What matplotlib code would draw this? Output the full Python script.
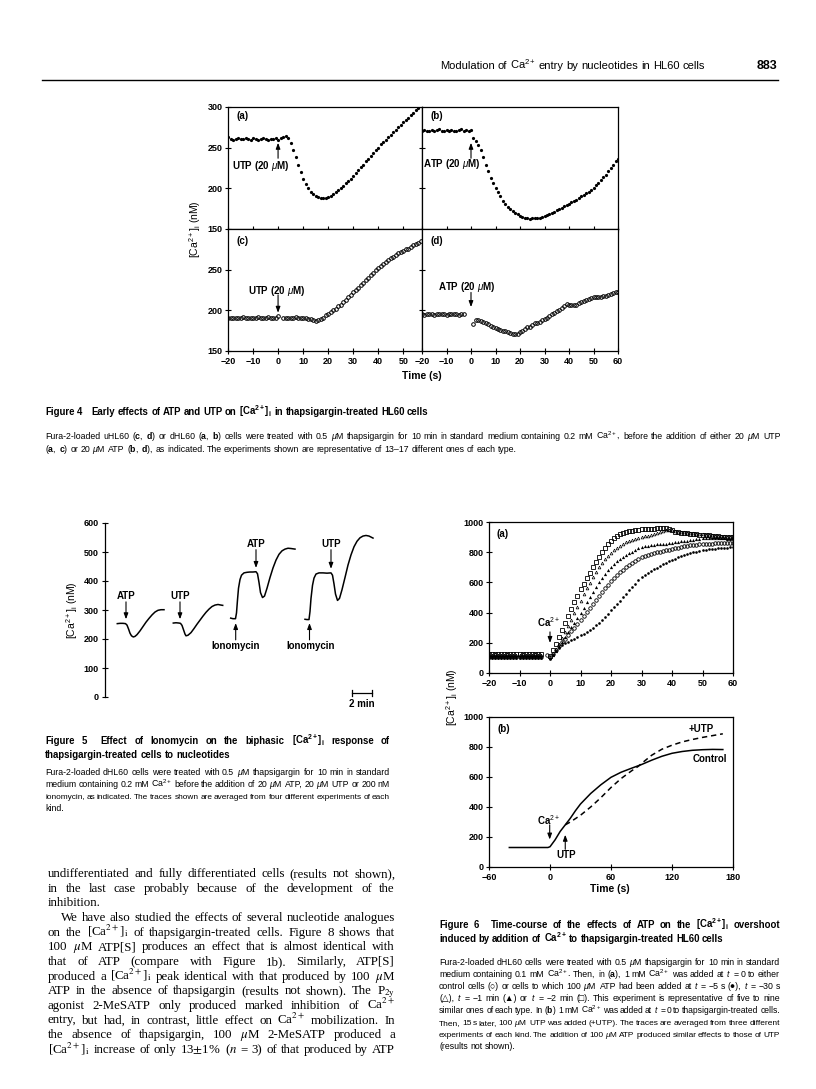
import numpy as np
import matplotlib
matplotlib.use('Agg')
import matplotlib.pyplot as plt
from matplotlib import font_manager
from matplotlib.transforms import IdentityTransform

W, H = 816, 1089
avail = {f.name for f in font_manager.fontManager.ttflist}
NARROW = 'Liberation Sans Narrow' if 'Liberation Sans Narrow' in avail else 'Liberation Sans'
SANS = 'Liberation Sans'
SERIF = 'Liberation Serif'

plt.rcParams['font.family'] = [SANS, 'DejaVu Sans']
plt.rcParams['mathtext.fontset'] = 'custom'
plt.rcParams['mathtext.rm'] = NARROW
plt.rcParams['mathtext.it'] = NARROW + ':italic'
plt.rcParams['mathtext.bf'] = NARROW + ':bold'

CA = r'[Ca$^{2+}$]$_\mathrm{i}$'
CA_BOLD = r'[Ca$^{\mathbf{2+}}$]$_\mathbf{i}$'

# ---------------- Figure 4 data (1 s sampling) ----------------
t4_left = np.arange(-20, 58)
t4_right = np.arange(-20, 61)
ca4a = [263, 261, 260, 261, 262, 261, 261, 262, 261, 260, 262, 261, 260, 261, 262, 261, 260, 261, 261, 262,
        260, 262, 263, 264, 262,
        256, 247, 238, 229, 220, 212, 205, 200, 196, 193, 191, 189, 188, 188, 188, 189, 191, 193, 196, 198,
        201, 203, 206, 209, 212, 215, 219, 222, 226, 229, 233, 236, 240, 243, 247, 250, 254, 257, 260, 263,
        266, 269, 272, 275, 278, 281, 284, 287, 290, 293, 296, 299, 302]
ca4b = [271, 272, 271, 270, 272, 271, 272, 273, 271, 270, 272, 271, 272, 271, 270, 272, 273, 271, 272, 271, 272,
        262, 258, 253, 247, 238, 229, 221, 213, 206, 200, 195, 190, 185, 181, 177, 174, 172, 170, 168, 166,
        165, 164, 163, 162, 163, 163, 163, 164, 165, 166, 167, 168, 170, 171, 173, 174, 176, 178, 179, 181,
        183, 184, 186, 188, 190, 192, 194, 196, 198, 201, 204, 207, 210, 214, 217, 221, 225, 229, 233, 236]
ca4c = [191, 190, 191, 191, 190, 191, 192, 191, 190, 191, 191, 190, 192, 191, 190, 191, 192, 191, 190, 191, 193,
        np.nan,
        190, 190, 191, 190, 191, 192, 191, 190, 190, 190, 189, 189, 188, 187, 188, 189, 191, 194, 196, 198,
        200, 202, 205, 207, 210, 213, 216, 219, 222, 225, 228, 231, 234, 237, 240, 243, 246, 249, 252, 254,
        257, 259, 262, 264, 266, 268, 270, 272, 273, 275, 276, 278, 280, 281, 283, 285]
ca4d = [195, 194, 195, 196, 195, 194, 195, 195, 196, 195, 194, 195, 196, 195, 195, 194, 196, 195,
        np.nan, np.nan, np.nan,
        183, 188, 188, 187, 186, 185, 183, 181, 179, 178, 177, 176, 175, 174, 173, 172, 171, 171, 171, 173,
        175, 177, 179, 180, 182, 184, 185, 186, 188, 189, 191, 193, 195, 197, 199, 201, 203, 205, 208, 207,
        206, 206, 207, 209, 210, 211, 213, 214, 215, 216, 216, 217, 217, 218, 218, 219, 220, 221, 222, 222]

# ---------------- Figure 5 data (min, nM) ----------------
f5_t1 = [1.23, 1.5, 1.8, 2.05, 2.2, 2.35, 2.5, 2.65, 2.83, 3.0, 3.2, 3.5, 3.8, 4.1, 4.4, 4.7, 5.0, 5.3, 5.6, 5.9]
f5_v1 = [253, 254, 254, 253, 248, 235, 220, 211, 207, 209, 215, 228, 243, 258, 271, 283, 293, 299, 301, 301]
f5_t2 = [6.83, 7.1, 7.4, 7.55, 7.7, 7.85, 8.0, 8.1, 8.3, 8.6, 8.9, 9.2, 9.5, 9.8, 10.1, 10.4, 10.7, 11.0, 11.3,
         11.6, 11.77]
f5_v2 = [255, 256, 255, 254, 247, 232, 217, 211, 213, 222, 236, 251, 265, 279, 292, 303, 312, 317, 319, 317, 316]
f5_t3 = [12.57, 12.8, 13.05, 13.15, 13.25, 13.35, 13.5, 13.65, 13.9, 14.2, 14.5, 14.8, 15.1, 15.25, 15.4, 15.55,
         15.75, 15.95, 16.2, 16.5, 16.8, 17.1, 17.4, 17.7, 18.0, 18.3, 18.6, 19.0]
f5_v3 = [272, 270, 270, 290, 335, 375, 405, 420, 428, 430, 431, 431, 432, 425, 395, 360, 343, 348, 375, 412, 445,
         472, 492, 504, 510, 513, 512, 510]
f5_t4 = [20.0, 20.2, 20.4, 20.5, 20.6, 20.75, 20.9, 21.1, 21.4, 21.8, 22.2, 22.6, 22.75, 22.9, 23.05, 23.25,
         23.45, 23.7, 24.0, 24.3, 24.6, 24.9, 25.2, 25.5, 25.8, 26.1, 26.4, 26.8]
f5_v4 = [268, 267, 267, 295, 340, 385, 410, 424, 428, 428, 427, 428, 420, 390, 355, 333, 340, 370, 412, 455, 490,
         518, 537, 549, 555, 557, 555, 548]

# ---------------- Figure 6a data (1 s sampling) ----------------
t6a = np.arange(-20, 61)
nan = np.nan
sq_2min = [128, 127, 128, 126, 128, 127, 128, 127, 126, 128, 127, 128, 127, 126, 128, 127, 128, 126, nan, nan,
           110, 150, 195, 240, 285, 330, 376, 422, 468, 512, 554, 592, 630, 665, 700, 735, 768, 800, 828, 854,
           876, 894, 908, 918, 926, 932, 938, 942, 946, 949, 951, 953, 954, 955, 956, 958, 960, 961, 958, 951,
           944, 937, 932, 928, 926, 925, 923, 921, 919, 917, 915, 913, 911, 909, 907, 905, 903, 901, 900, 899, 898]
otri_30s = [122, 121, 123, 122, 121, 122, 123, 121, 122, 122, 121, 123, 122, 121, 122, 123, 121, 122, nan, nan,
            105, 130, 160, 195, 232, 270, 310, 352, 395, 438, 480, 520, 560, 598, 634, 668, 700, 728, 754, 778,
            798, 816, 831, 844, 856, 866, 874, 882, 889, 895, 900, 905, 910, 915, 920, 926, 932, 938, 944, 946,
            945, 941, 937, 934, 931, 928, 926, 924, 922, 920, 918, 916, 914, 912, 910, 908, 906, 904, 902, 900, 899]
ftri_1min = [112, 113, 111, 112, 113, 112, 111, 112, 113, 112, 111, 112, 113, 112, 111, 112, 112, 113, nan, nan,
             100, 122, 148, 176, 206, 238, 270, 302, 334, 366, 398, 433, 468, 504, 538, 570, 600, 628, 654, 679,
             702, 722, 740, 756, 769, 780, 792, 804, 815, 825, 834, 838, 842, 845, 848, 851, 853, 855, 857, 859,
             862, 865, 868, 871, 874, 877, 880, 883, 886, 889, 891, 892, 893, 893, 893, 893, 892, 891, 890, 889, 888]
ocirc_ctrl = [108, 107, 109, 108, 107, 108, 109, 107, 108, 108, 107, 109, 108, 107, 108, 109, 107, 108, nan, 120,
              105, 128, 152, 176, 202, 228, 252, 276, 300, 325, 350, 377, 403, 430, 456, 482, 508, 534, 560, 585,
              609, 630, 650, 668, 685, 700, 715, 729, 742, 754, 766, 773, 780, 787, 793, 799, 804, 809, 813, 817,
              821, 826, 830, 835, 839, 843, 845, 847, 849, 851, 854, 855, 856, 857, 858, 859, 860, 860, 860, 860, 860]
fcirc_5s = [100, 101, 99, 100, 101, 100, 99, 100, 101, 100, 99, 100, 101, 100, 99, 100, 100, 101, nan, nan,
            92, 120, 148, 168, 184, 198, 208, 218, 228, 238, 249, 261, 273, 287, 300, 315, 332, 352, 372, 393,
            414, 436, 458, 480, 503, 526, 548, 570, 592, 614, 636, 649, 662, 674, 686, 697, 708, 719, 730, 740,
            750, 758, 766, 774, 782, 790, 795, 800, 804, 808, 812, 815, 818, 821, 824, 827, 829, 830, 831, 832, 833]

# ---------------- Figure 6b data ----------------
ctrl_t = [-40, -30, -20, -10, -2, 0, 5, 10, 15, 20, 25, 30, 40, 50, 60, 70, 80, 90, 100, 110, 120, 130, 140,
          150, 160, 170]
ctrl_v = [130, 130, 130, 130, 130, 135, 181, 237, 281, 325, 375, 420, 490, 548, 598, 632, 658, 683, 712, 738,
          758, 770, 778, 782, 784, 783]
utp_t = [15, 20, 30, 40, 50, 60, 70, 80, 87, 90, 100, 110, 120, 130, 140, 150, 160, 170]
utp_v = [281, 300, 345, 400, 462, 530, 590, 640, 672, 690, 745, 785, 812, 834, 850, 864, 876, 888]


fig = plt.figure(figsize=(W / 100, H / 100), dpi=100)
fig.patch.set_facecolor('white')


def rect(x0, y0, x1, y1):
    return [x0 / W, 1 - y1 / H, (x1 - x0) / W, (y1 - y0) / H]


def style(ax):
    ax.tick_params(direction='inout', length=4, width=0.8, labelsize=6.5, pad=2)
    for lab in ax.get_xticklabels() + ax.get_yticklabels():
        lab.set_fontweight('bold')
    for s in ax.spines.values():
        s.set_linewidth(0.9)


def arrow(ax, x, y0, y1):
    ax.annotate('', xy=(x, y1), xytext=(x, y0),
                arrowprops=dict(arrowstyle='-|>,head_length=0.35,head_width=0.13', lw=0.8, color='k',
                                shrinkA=0, shrinkB=0))


def label(ax, x, y, s, ha='center'):
    ax.text(x, y, s, fontsize=7, fontweight='bold', ha=ha, va='center')


def ptext(x, y, s, **kw):
    fig.text(x, H - y, s, transform=IdentityTransform(), **kw)


# ================= Figure 4 =================
ax4a = fig.add_axes(rect(228, 107, 422, 229))
ax4b = fig.add_axes(rect(422, 107, 618, 229))
ax4c = fig.add_axes(rect(228, 229, 422, 351))
ax4d = fig.add_axes(rect(422, 229, 618, 351))

ax4a.plot(t4_left, ca4a, 'o', color='k', ms=2.3, mew=0)
ax4b.plot(t4_right, ca4b, 'o', color='k', ms=2.3, mew=0)
ax4c.plot(t4_left, ca4c, 'o', mfc='none', mec='k', ms=2.6, mew=0.7)
ax4d.plot(t4_right, ca4d, 'o', mfc='none', mec='k', ms=2.6, mew=0.7)

for ax in (ax4a, ax4c):
    ax.set_xlim(-20, 57.5)
    ax.set_xticks(range(-20, 51, 10))
for ax in (ax4b, ax4d):
    ax.set_xlim(-20, 60)
    ax.set_xticks(range(-20, 61, 10))
    ax.set_yticks([200, 250])
    ax.tick_params(labelleft=False)
for ax in (ax4a, ax4b, ax4c, ax4d):
    ax.set_ylim(150, 300)
for ax in (ax4a, ax4b):
    ax.tick_params(labelbottom=False)
ax4a.set_yticks([150, 200, 250, 300])
ax4c.set_yticks([150, 200, 250])
for ax in (ax4a, ax4b, ax4c, ax4d):
    style(ax)

label(ax4a, -16.7, 289, '(a)', ha='left')
label(ax4b, -16.7, 289, '(b)', ha='left')
label(ax4c, -16.7, 285, '(c)', ha='left')
label(ax4d, -16.7, 285, '(d)', ha='left')
label(ax4a, -7, 227, r'UTP (20 $\mu$M)')
arrow(ax4a, 0, 237, 256)
label(ax4b, -8, 230, r'ATP (20 $\mu$M)')
arrow(ax4b, 0, 237, 256)
label(ax4c, -0.4, 224, r'UTP (20 $\mu$M)')
arrow(ax4c, 0, 219, 197)
label(ax4d, -1.6, 229, r'ATP (20 $\mu$M)')
arrow(ax4d, 0, 222, 204)

ptext(422, 376, 'Time (s)', fontsize=7.5, fontweight='bold', ha='center', va='center')
ptext(195, 229, CA + ' (nM)', fontsize=7.5, ha='center', va='center', rotation=90)

# ================= Figure 5 =================
ax5 = fig.add_axes(rect(105, 523, 375, 697))
for tt, vv in ((f5_t1, f5_v1), (f5_t2, f5_v2), (f5_t3, f5_v3), (f5_t4, f5_v4)):
    ax5.plot(tt, vv, color='k', lw=1.1)
ax5.set_xlim(0, 27)
ax5.set_ylim(0, 600)
ax5.set_yticks(range(0, 601, 100))
ax5.set_xticks([])
for s in ('top', 'right', 'bottom'):
    ax5.spines[s].set_visible(False)
ax5.patch.set_alpha(0)
style(ax5)
ax5.tick_params(axis='y', length=5)

label(ax5, 2.1, 348, 'ATP')
arrow(ax5, 2.1, 328, 268)
label(ax5, 7.5, 348, 'UTP')
arrow(ax5, 7.5, 328, 268)
label(ax5, 15.1, 528, 'ATP')
arrow(ax5, 15.1, 508, 445)
label(ax5, 22.6, 528, 'UTP')
arrow(ax5, 22.6, 508, 442)
label(ax5, 13.07, 176, 'Ionomycin')
arrow(ax5, 13.07, 197, 255)
label(ax5, 20.55, 176, 'Ionomycin')
arrow(ax5, 20.45, 197, 255)
# 2 min scale bar
ax5.plot([24.67, 26.67], [14, 14], color='k', lw=0.9, clip_on=False)
ax5.plot([24.67, 24.67], [4, 24], color='k', lw=0.9, clip_on=False)
ax5.plot([26.67, 26.67], [4, 24], color='k', lw=0.9, clip_on=False)
ax5.text(25.67, -24, '2 min', fontsize=7, fontweight='bold', ha='center', va='center')
ptext(72, 610, CA + ' (nM)', fontsize=7.5, ha='center', va='center', rotation=90)

# ================= Figure 6 =================
ax6a = fig.add_axes(rect(489, 522, 733, 673))
ax6b = fig.add_axes(rect(489, 717, 733, 867))

ax6a.plot(t6a, fcirc_5s, 'o', color='k', ms=1.9, mew=0)
ax6a.plot(t6a, ocirc_ctrl, 'o', mfc='none', mec='k', ms=2.5, mew=0.6)
ax6a.plot(t6a, ftri_1min, '^', color='k', ms=2.3, mew=0)
ax6a.plot(t6a, otri_30s, '^', mfc='none', mec='k', ms=2.0, mew=0.5)
ax6a.plot(t6a, sq_2min, 's', mfc='none', mec='k', ms=2.6, mew=0.6)
ax6a.set_xlim(-20, 60)
ax6a.set_ylim(0, 1000)
ax6a.set_xticks(range(-20, 61, 10))
ax6a.set_yticks(range(0, 1001, 200))
style(ax6a)
label(ax6a, -17.4, 923, '(a)', ha='left')
label(ax6a, -0.6, 338, r'Ca$^{2+}$')
arrow(ax6a, 0, 272, 199)

ax6b.plot(ctrl_t, ctrl_v, color='k', lw=1.1)
ax6b.plot(utp_t, utp_v, color='k', lw=1.1, dashes=(3.5, 2.5))
ax6b.set_xlim(-60, 180)
ax6b.set_ylim(0, 1000)
ax6b.set_xticks(range(-60, 181, 60))
ax6b.set_yticks(range(0, 1001, 200))
style(ax6b)
label(ax6b, -52, 918, '(b)', ha='left')
label(ax6b, -1, 314, r'Ca$^{2+}$')
arrow(ax6b, -0.3, 281, 183)
label(ax6b, 15.5, 82, 'UTP')
arrow(ax6b, 15, 118, 215)
label(ax6b, 149, 922, '+UTP')
label(ax6b, 157, 717, 'Control')
ptext(610, 889, 'Time (s)', fontsize=7.5, fontweight='bold', ha='center', va='center')
ptext(452, 697, CA + ' (nM)', fontsize=7.5, ha='center', va='center', rotation=90)

# ================= page text =================
renderer = fig.canvas.get_renderer()


def jline(x0, y, s, size, fam, weight='normal', x1=None, math='custom'):
    toks = s.split(' ')
    items = []
    extra = 0.0
    for tk in toks:
        if tk == '':
            extra += size * 0.5
            continue
        t = fig.text(0, 0, tk, transform=IdentityTransform(), fontsize=size,
                     family=[fam, 'DejaVu Sans'], weight=weight, math_fontfamily=math, va='baseline')
        items.append([t, t.get_window_extent(renderer).width, extra])
        extra = 0.0
    total = sum(w + e for _, w, e in items)
    space = size * 100 / 72 * 0.26
    if x1 is not None and len(items) > 1:
        need = total + (len(items) - 1) * space * 0.7
        if need > x1 - x0:
            # too long at this size: shrink the line so it still fits the column
            for t, _, _ in items:
                t.remove()
            jline(x0, y, s, size * (x1 - x0) / need, fam, weight, x1, math)
            return
        gap = (x1 - x0 - total) / (len(items) - 1)
    else:
        gap = space
    x = x0
    for i, (t, w, e) in enumerate(items):
        if i > 0:
            x += gap + e
        t.set_position((x, H - y))
        x += w


# header
jline(440, 69, r'Modulation of Ca$^{2+}$ entry by nucleotides in HL60 cells', 8.0, NARROW)
ptext(777, 69, '883', fontsize=9, fontweight='bold', ha='right', va='baseline', family=SANS)
fig.add_artist(plt.Line2D([42 / W, 778 / W], [1 - 80 / H, 1 - 80 / H], color='k', lw=1.0))

CAP = 6.3
TIT = 6.9

# Figure 4 caption
jline(45, 415, r'Figure 4   Early effects of ATP and UTP on ' + CA_BOLD + ' in thapsigargin-treated HL60 cells',
      TIT, NARROW, weight='bold')
jline(45, 439, r'Fura-2-loaded uHL60 ($\mathbf{c}$, $\mathbf{d}$) or dHL60 ($\mathbf{a}$, $\mathbf{b}$) cells '
      r'were treated with 0.5 $\mu$M thapsigargin for 10 min in standard medium containing 0.2 mM Ca$^{2+}$, '
      r'before the addition of either 20 $\mu$M UTP', CAP, NARROW, x1=781)
jline(45, 452, r'($\mathbf{a}$, $\mathbf{c}$) or 20 $\mu$M ATP ($\mathbf{b}$, $\mathbf{d}$), as indicated. '
      r'The experiments shown are representative of 13–17 different ones of each type.', CAP, NARROW)

# Figure 5 caption
jline(45, 744, r'Figure 5   Effect of Ionomycin on the biphasic ' + CA_BOLD + ' response of', TIT, NARROW,
      weight='bold', x1=390)
jline(45, 758, 'thapsigargin-treated cells to nucleotides', TIT, NARROW, weight='bold')
cap5 = [r'Fura-2-loaded dHL60 cells were treated with 0.5 $\mu$M thapsigargin for 10 min in standard',
        r'medium containing 0.2 mM Ca$^{2+}$ before the addition of 20 $\mu$M ATP, 20 $\mu$M UTP or 200 nM',
        r'ionomycin, as indicated. The traces shown are averaged from four different experiments of each',
        'kind.']
for i, s in enumerate(cap5):
    jline(45, 775 + 12 * i, s, CAP, NARROW, x1=390 if i < len(cap5) - 1 else None)

# Figure 6 caption
jline(439, 928, r'Figure 6   Time-course of the effects of ATP on the ' + CA_BOLD + ' overshoot', TIT, NARROW,
      weight='bold', x1=780)
jline(439, 942, r'induced by addition of Ca$^{\mathbf{2+}}$ to thapsigargin-treated HL60 cells', TIT, NARROW,
      weight='bold')
cap6 = [r'Fura-2-loaded dHL60 cells were treated with 0.5 $\mu$M thapsigargin for 10 min in standard',
        r'medium containing 0.1 mM Ca$^{2+}$. Then, in ($\mathbf{a}$), 1 mM Ca$^{2+}$ was added at $t$ = 0 to either',
        r'control cells (○) or cells to which 100 $\mu$M ATP had been added at $t$ = −5 s (●), $t$ = −30 s',
        r'(△), $t$ = −1 min (▲) or $t$ = −2 min (□). This experiment is representative of five to nine',
        r'similar ones of each type. In ($\mathbf{b}$) 1 mM Ca$^{2+}$ was added at $t$ = 0 to thapsigargin-treated cells.',
        r'Then, 15 s later, 100 $\mu$M UTP was added (+UTP). The traces are averaged from three different',
        r'experiments of each kind. The addition of 100 $\mu$M ATP produced similar effects to those of UTP',
        '(results not shown).']
for i, s in enumerate(cap6):
    jline(439, 965 + 12 * i, s, CAP, NARROW, x1=780 if i < len(cap6) - 1 else None)

# body text (left column)
CAs = r'[Ca$^{2+}$]$_\mathrm{i}$'
body = [(0, 'undifferentiated and fully differentiated cells (results not shown),', True),
        (0, 'in the last case probably because of the development of the', True),
        (0, 'inhibition.', False),
        (13, 'We have also studied the effects of several nucleotide analogues', True),
        (0, 'on the ' + CAs + ' of thapsigargin-treated cells. Figure 8 shows that', True),
        (0, r'100 $\mu$M ATP[S] produces an effect that is almost identical with', True),
        (0, 'that of ATP (compare with Figure 1b). Similarly, ATP[S]', True),
        (0, 'produced a ' + CAs + r' peak identical with that produced by 100 $\mu$M', True),
        (0, r'ATP in the absence of thapsigargin (results not shown). The P$_{2\mathrm{y}}$', True),
        (0, r'agonist 2-MeSATP only produced marked inhibition of Ca$^{2+}$', True),
        (0, r'entry, but had, in contrast, little effect on Ca$^{2+}$ mobilization. In', True),
        (0, r'the absence of thapsigargin, 100 $\mu$M 2-MeSATP produced a', True),
        (0, CAs + r' increase of only 13$\pm$1% ($n$ = 3) of that produced by ATP', True)]
for i, (ind, s, just) in enumerate(body):
    jline(48 + ind, 877 + 14.65 * i, s, 9.3, SERIF, x1=395 if just else None, math='stix')

fig.savefig('out.png', dpi=100, facecolor='white')
